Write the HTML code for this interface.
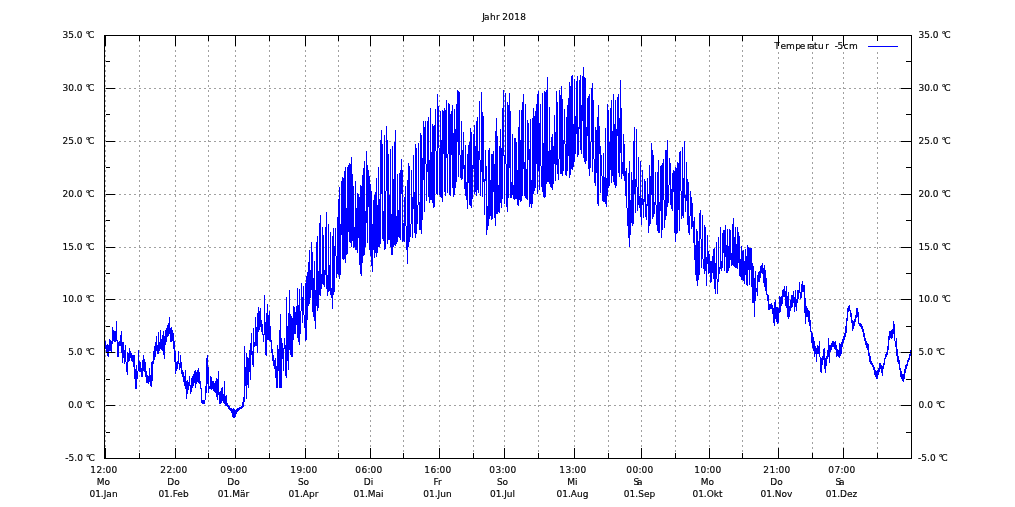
<!DOCTYPE html>
<html lang="de"><head><meta charset="utf-8"><title>Jahr 2018</title>
<style>html,body{margin:0;padding:0;background:#fff}svg{display:block}</style>
</head><body>
<svg width="1015" height="507" viewBox="0 0 1015 507">
<rect width="1015" height="507" fill="#fff"/>
<path d="M105.5 35V458M175.5 35V458M235.5 35V458M305.5 35V458M370.5 35V458M439.5 35V458M504.5 35V458M574.5 35V458M641.5 35V458M709.5 35V458M778.5 52V458M843.5 52V458M139.5 35V458M208.5 35V458M269.5 35V458M338.5 35V458M403.5 35V458M473.5 35V458M538.5 35V458M608.5 35V458M675.5 35V458M742.5 35V458M812.5 52V458M877.5 52V458M104 88.5H911M104 141.5H911M104 194.5H911M104 247.5H911M104 299.5H911M104 352.5H911M104 405.5H911" stroke="#a0a0a0" stroke-width="1" stroke-dasharray="2 3" fill="none" shape-rendering="crispEdges"/>
<path d="M105.5 341V349M106.5 345V353M107.5 344V356M108.5 345V357M109.5 339V351M110.5 340V351M111.5 341V353M112.5 327V344M113.5 330V341M114.5 331V342M115.5 331V342M116.5 321V341M117.5 340V357M118.5 342V357M119.5 341V346M120.5 335V346M121.5 331V353M122.5 342V363M123.5 342V358M124.5 350V364M125.5 345V362M126.5 362V372M127.5 352V375M128.5 353V362M129.5 348V361M130.5 351V358M131.5 353V361M132.5 355V362M133.5 355V367M134.5 355V379M135.5 369V389M136.5 365V389M137.5 371V379M138.5 350V371M139.5 361V372M140.5 362V372M141.5 368V377M142.5 360V377M143.5 355V371M144.5 359V372M145.5 362V377M146.5 371V383M147.5 375V383M148.5 376V384M149.5 368V382M150.5 375V386M151.5 362V387M152.5 361V381M153.5 351V364M154.5 346V360M155.5 342V357M156.5 336V351M157.5 345V354M158.5 332V354M159.5 342V351M160.5 330V349M161.5 339V350M162.5 335V351M163.5 331V355M164.5 336V359M165.5 330V345M166.5 328V342M167.5 325V337M168.5 323V336M169.5 317V334M170.5 328V342M171.5 327V342M172.5 330V341M173.5 333V349M174.5 341V362M175.5 351V374M176.5 362V371M177.5 361V369M178.5 351V364M179.5 363V370M180.5 355V368M181.5 362V374M182.5 370V377M183.5 372V382M184.5 376V386M185.5 370V389M186.5 381V399M187.5 380V394M188.5 382V390M189.5 376V386M190.5 385V394M191.5 378V392M192.5 376V388M193.5 374V386M194.5 371V383M195.5 370V388M196.5 372V384M197.5 370V382M198.5 368V383M199.5 372V384M200.5 381V389M201.5 388V403M202.5 400V404M203.5 400V404M204.5 400V404M205.5 386V400M206.5 358V393M207.5 355V384M208.5 367V393M209.5 386V389M210.5 376V389M211.5 377V390M212.5 381V389M213.5 381V391M214.5 383V392M215.5 381V393M216.5 378V397M217.5 379V400M218.5 371V395M219.5 392V404M220.5 391V404M221.5 388V403M222.5 387V401M223.5 394V403M224.5 381V404M225.5 396V406M226.5 395V406M227.5 403V407M228.5 405V409M229.5 406V410M230.5 408V411M231.5 408V413M232.5 409V417M233.5 408V418M234.5 409V418M235.5 410V417M236.5 409V414M237.5 408V412M238.5 408V411M239.5 407V410M240.5 407V409M241.5 406V409M242.5 402V408M243.5 397V407M244.5 346V402M245.5 367V386M246.5 353V399M247.5 357V385M248.5 358V388M249.5 350V372M250.5 343V380M251.5 333V355M252.5 351V365M253.5 328V367M254.5 342V347M255.5 317V346M256.5 327V346M257.5 313V353M258.5 307V332M259.5 311V330M260.5 308V327M261.5 320V332M262.5 324V335M263.5 334V342M264.5 295V335M265.5 322V355M266.5 313V356M267.5 304V340M268.5 315V340M269.5 311V341M270.5 326V342M271.5 340V353M272.5 349V361M273.5 355V366M274.5 360V369M275.5 358V378M276.5 366V388M277.5 345V388M278.5 349V371M279.5 330V388M280.5 314V388M281.5 338V388M282.5 343V359M283.5 348V371M284.5 338V349M285.5 345V376M286.5 297V378M287.5 326V361M288.5 313V370M289.5 290V350M290.5 314V355M291.5 316V357M292.5 318V357M293.5 306V340M294.5 307V334M295.5 312V334M296.5 306V325M297.5 288V338M298.5 305V342M299.5 289V345M300.5 311V334M301.5 283V311M302.5 297V323M303.5 286V315M304.5 315V328M305.5 283V341M306.5 276V340M307.5 272V320M308.5 262V306M309.5 250V304M310.5 270V298M311.5 242V290M312.5 252V312M313.5 278V317M314.5 261V321M315.5 290V329M316.5 242V306M317.5 236V311M318.5 271V308M319.5 223V295M320.5 215V296M321.5 274V289M322.5 227V284M323.5 235V285M324.5 270V287M325.5 227V275M326.5 212V289M327.5 275V296M328.5 224V292M329.5 265V291M330.5 232V295M331.5 288V298M332.5 236V309M333.5 228V295M334.5 246V292M335.5 228V256M336.5 256V278M337.5 217V274M338.5 199V275M339.5 187V279M340.5 224V275M341.5 181V235M342.5 177V259M343.5 178V260M344.5 171V259M345.5 167V263M346.5 208V255M347.5 167V254M348.5 165V232M349.5 163V242M350.5 164V243M351.5 157V247M352.5 174V241M353.5 186V248M354.5 227V247M355.5 181V250M356.5 208V250M357.5 193V253M358.5 194V238M359.5 197V265M360.5 185V274M361.5 186V276M362.5 175V263M363.5 168V256M364.5 161V255M365.5 211V247M366.5 151V223M367.5 165V243M368.5 170V207M369.5 176V250M370.5 184V256M371.5 191V266M372.5 224V272M373.5 200V250M374.5 195V258M375.5 192V253M376.5 178V257M377.5 205V253M378.5 167V247M379.5 199V247M380.5 140V244M381.5 130V194M382.5 144V239M383.5 211V241M384.5 135V250M385.5 191V249M386.5 126V191M387.5 140V244M388.5 154V240M389.5 195V240M390.5 149V247M391.5 214V255M392.5 146V255M393.5 179V247M394.5 142V245M395.5 130V246M396.5 216V244M397.5 174V242M398.5 210V237M399.5 173V238M400.5 170V240M401.5 159V194M402.5 170V242M403.5 223V241M404.5 197V242M405.5 186V226M406.5 226V250M407.5 180V264M408.5 163V247M409.5 166V242M410.5 224V237M411.5 170V224M412.5 197V238M413.5 155V209M414.5 192V233M415.5 144V238M416.5 148V234M417.5 205V224M418.5 143V205M419.5 202V230M420.5 133V230M421.5 135V234M422.5 158V220M423.5 121V180M424.5 127V212M425.5 121V164M426.5 164V201M427.5 121V172M428.5 117V197M429.5 160V203M430.5 108V200M431.5 152V200M432.5 124V203M433.5 126V208M434.5 125V207M435.5 109V151M436.5 151V194M437.5 94V195M438.5 106V148M439.5 148V195M440.5 111V197M441.5 140V198M442.5 110V202M443.5 111V154M444.5 108V192M445.5 110V196M446.5 100V158M447.5 154V193M448.5 103V154M449.5 104V195M450.5 114V196M451.5 111V155M452.5 105V188M453.5 133V197M454.5 109V195M455.5 129V188M456.5 104V182M457.5 90V142M458.5 91V177M459.5 92V155M460.5 155V178M461.5 121V180M462.5 150V179M463.5 132V169M464.5 165V189M465.5 145V196M466.5 182V200M467.5 154V209M468.5 145V183M469.5 142V205M470.5 128V206M471.5 132V208M472.5 165V199M473.5 134V169M474.5 125V194M475.5 146V192M476.5 121V196M477.5 117V190M478.5 151V193M479.5 101V160M480.5 160V196M481.5 92V172M482.5 112V197M483.5 116V182M484.5 179V215M485.5 150V181M486.5 166V235M487.5 206V230M488.5 150V226M489.5 148V219M490.5 180V216M491.5 154V220M492.5 154V219M493.5 151V192M494.5 164V218M495.5 131V226M496.5 118V214M497.5 136V214M498.5 185V212M499.5 146V213M500.5 129V203M501.5 148V208M502.5 108V199M503.5 90V156M504.5 155V204M505.5 93V164M506.5 164V207M507.5 102V212M508.5 105V198M509.5 93V168M510.5 111V198M511.5 182V198M512.5 134V195M513.5 185V199M514.5 138V200M515.5 138V199M516.5 142V199M517.5 170V205M518.5 127V206M519.5 110V200M520.5 140V202M521.5 110V201M522.5 102V196M523.5 94V169M524.5 162V196M525.5 104V198M526.5 169V199M527.5 120V200M528.5 123V160M529.5 149V207M530.5 119V204M531.5 180V208M532.5 118V204M533.5 108V194M534.5 116V191M535.5 111V188M536.5 104V164M537.5 94V194M538.5 91V171M539.5 123V190M540.5 104V166M541.5 166V187M542.5 93V192M543.5 143V197M544.5 91V198M545.5 92V197M546.5 90V184M547.5 77V182M548.5 151V182M549.5 107V184M550.5 150V187M551.5 137V188M552.5 134V190M553.5 146V184M554.5 115V164M555.5 132V181M556.5 91V165M557.5 102V174M558.5 159V180M559.5 90V159M560.5 95V174M561.5 86V174M562.5 99V176M563.5 140V171M564.5 109V144M565.5 144V175M566.5 117V176M567.5 105V171M568.5 98V156M569.5 82V178M570.5 86V175M571.5 76V169M572.5 75V170M573.5 124V167M574.5 79V162M575.5 116V154M576.5 81V134M577.5 76V157M578.5 127V155M579.5 80V129M580.5 75V150M581.5 105V154M582.5 76V121M583.5 67V158M584.5 77V162M585.5 78V164M586.5 127V161M587.5 98V136M588.5 96V169M589.5 94V176M590.5 142V168M591.5 88V142M592.5 83V172M593.5 100V159M594.5 159V183M595.5 127V186M596.5 130V173M597.5 117V204M598.5 105V206M599.5 126V154M600.5 146V193M601.5 155V176M602.5 176V201M603.5 153V202M604.5 177V202M605.5 128V204M606.5 178V207M607.5 104V196M608.5 110V188M609.5 142V186M610.5 108V170M611.5 100V183M612.5 131V176M613.5 94V182M614.5 124V185M615.5 100V188M616.5 129V186M617.5 97V136M618.5 94V173M619.5 118V177M620.5 80V153M621.5 108V179M622.5 162V174M623.5 134V176M624.5 144V181M625.5 171V196M626.5 168V208M627.5 208V226M628.5 173V238M629.5 161V247M630.5 200V235M631.5 172V223M632.5 180V226M633.5 141V224M634.5 127V194M635.5 179V213M636.5 129V187M637.5 187V211M638.5 157V205M639.5 196V208M640.5 161V217M641.5 198V225M642.5 170V205M643.5 199V218M644.5 179V202M645.5 181V217M646.5 204V220M647.5 178V206M648.5 194V233M649.5 165V226M650.5 176V224M651.5 143V195M652.5 150V219M653.5 155V217M654.5 202V214M655.5 172V205M656.5 205V225M657.5 172V231M658.5 160V233M659.5 202V233M660.5 166V211M661.5 165V238M662.5 163V230M663.5 159V200M664.5 200V228M665.5 150V220M666.5 150V216M667.5 140V207M668.5 185V203M669.5 158V185M670.5 163V205M671.5 189V209M672.5 173V211M673.5 170V192M674.5 171V233M675.5 167V242M676.5 168V234M677.5 162V233M678.5 163V210M679.5 152V231M680.5 151V191M681.5 191V219M682.5 147V216M683.5 178V218M684.5 141V198M685.5 195V212M686.5 162V201M687.5 179V225M688.5 182V233M689.5 216V235M690.5 191V216M691.5 197V229M692.5 203V227M693.5 221V243M694.5 217V260M695.5 245V275M696.5 229V281M697.5 231V286M698.5 241V280M699.5 213V275M700.5 210V239M701.5 239V268M702.5 215V259M703.5 259V269M704.5 225V274M705.5 227V271M706.5 257V286M707.5 235V264M708.5 251V274M709.5 254V273M710.5 261V283M711.5 261V282M712.5 256V273M713.5 249V279M714.5 248V289M715.5 263V294M716.5 242V279M717.5 279V294M718.5 237V282M719.5 267V274M720.5 227V269M721.5 261V271M722.5 233V268M723.5 230V253M724.5 230V271M725.5 225V257M726.5 245V273M727.5 229V273M728.5 246V271M729.5 229V268M730.5 230V260M731.5 253V266M732.5 224V265M733.5 218V266M734.5 237V267M735.5 227V268M736.5 244V268M737.5 227V269M738.5 232V263M739.5 236V276M740.5 259V277M741.5 246V280M742.5 251V280M743.5 250V281M744.5 261V284M745.5 249V275M746.5 256V285M747.5 245V286M748.5 247V270M749.5 248V285M750.5 248V270M751.5 248V287M752.5 263V303M753.5 266V303M754.5 278V317M755.5 271V301M756.5 288V292M757.5 275V296M758.5 272V282M759.5 271V282M760.5 266V278M761.5 265V273M762.5 263V274M763.5 268V283M764.5 265V287M765.5 270V291M766.5 278V295M767.5 294V301M768.5 295V310M769.5 304V310M770.5 304V309M771.5 303V309M772.5 305V314M773.5 308V323M774.5 302V326M775.5 300V319M776.5 307V322M777.5 307V324M778.5 308V323M779.5 296V313M780.5 297V312M781.5 296V306M782.5 290V304M783.5 289V297M784.5 286V297M785.5 291V306M786.5 286V308M787.5 296V317M788.5 292V319M789.5 306V317M790.5 300V311M791.5 295V308M792.5 295V307M793.5 291V303M794.5 297V312M795.5 290V307M796.5 299V311M797.5 290V303M798.5 290V299M799.5 282V293M800.5 292V299M801.5 284V298M802.5 281V292M803.5 285V292M804.5 285V313M805.5 298V324M806.5 306V317M807.5 308V317M808.5 310V322M809.5 311V326M810.5 320V332M811.5 331V343M812.5 333V348M813.5 337V351M814.5 341V357M815.5 346V354M816.5 348V362M817.5 345V354M818.5 346V354M819.5 341V357M820.5 357V372M821.5 358V373M822.5 356V365M823.5 349V360M824.5 348V369M825.5 358V373M826.5 356V366M827.5 350V359M828.5 338V357M829.5 345V363M830.5 345V352M831.5 343V350M832.5 341V347M833.5 341V347M834.5 342V349M835.5 341V350M836.5 345V357M837.5 349V356M838.5 350V357M839.5 343V358M840.5 344V356M841.5 342V354M842.5 339V347M843.5 336V343M844.5 333V340M845.5 326V337M846.5 318V333M847.5 308V321M848.5 306V312M849.5 305V311M850.5 310V317M851.5 313V323M852.5 320V331M853.5 321V329M854.5 319V326M855.5 315V322M856.5 308V318M857.5 308V317M858.5 312V324M859.5 323V326M860.5 323V327M861.5 324V329M862.5 326V332M863.5 329V337M864.5 333V341M865.5 338V345M866.5 341V348M867.5 343V350M868.5 344V356M869.5 353V362M870.5 356V364M871.5 361V365M872.5 363V367M873.5 365V370M874.5 367V375M875.5 370V377M876.5 371V379M877.5 370V379M878.5 368V375M879.5 363V372M880.5 363V369M881.5 365V373M882.5 366V376M883.5 363V369M884.5 358V365M885.5 354V359M886.5 352V357M887.5 346V355M888.5 336V350M889.5 331V340M890.5 331V338M891.5 330V339M892.5 329V338M893.5 321V334M894.5 324V341M895.5 341V347M896.5 338V356M897.5 349V362M898.5 356V364M899.5 360V370M900.5 368V377M901.5 371V379M902.5 374V381M903.5 374V382M904.5 369V379M905.5 365V373M906.5 364V369M907.5 360V366M908.5 358V362M909.5 354V360M910.5 350V356" stroke="#0000ff" stroke-width="1" fill="none" shape-rendering="crispEdges"/>
<path d="M104.5 35.5H911.5V458.5H104.5ZM105.5 35v11M105.5 459v-11M175.5 35v11M175.5 459v-11M235.5 35v11M235.5 459v-11M305.5 35v11M305.5 459v-11M370.5 35v11M370.5 459v-11M439.5 35v11M439.5 459v-11M504.5 35v11M504.5 459v-11M574.5 35v11M574.5 459v-11M641.5 35v11M641.5 459v-11M709.5 35v11M709.5 459v-11M778.5 35v11M778.5 459v-11M843.5 35v11M843.5 459v-11M139.5 35v6M139.5 459v-6M208.5 35v6M208.5 459v-6M269.5 35v6M269.5 459v-6M338.5 35v6M338.5 459v-6M403.5 35v6M403.5 459v-6M473.5 35v6M473.5 459v-6M538.5 35v6M538.5 459v-6M608.5 35v6M608.5 459v-6M675.5 35v6M675.5 459v-6M742.5 35v6M742.5 459v-6M812.5 35v6M812.5 459v-6M877.5 35v6M877.5 459v-6M106 35.5h9M912 35.5h-11M106 88.5h9M912 88.5h-11M106 141.5h9M912 141.5h-11M106 194.5h9M912 194.5h-11M106 247.5h9M912 247.5h-11M106 299.5h9M912 299.5h-11M106 352.5h9M912 352.5h-11M106 405.5h9M912 405.5h-11M106 458.5h9M912 458.5h-11M106 61.5h4M912 61.5h-6M106 114.5h4M912 114.5h-6M106 167.5h4M912 167.5h-6M106 220.5h4M912 220.5h-6M106 273.5h4M912 273.5h-6M106 326.5h4M912 326.5h-6M106 379.5h4M912 379.5h-6M106 432.5h4M912 432.5h-6" stroke="#000" stroke-width="1" fill="none" shape-rendering="crispEdges"/>
<g font-family='"DejaVu Sans", "Liberation Sans", sans-serif' font-size="9" fill="#000" stroke="#000" stroke-width="0.15">
<text x="482.2 484.1 490.1 496.1 500 502.2 508.3 514.2 520.3" y="20">Jahr 2018</text>
<text x="62.5" y="38">35.0 °<tspan dx="-1.8">C</tspan></text>
<text x="918.55" y="38">35.0 °<tspan dx="-1.8">C</tspan></text>
<text x="62.5" y="91">30.0 °<tspan dx="-1.8">C</tspan></text>
<text x="918.55" y="91">30.0 °<tspan dx="-1.8">C</tspan></text>
<text x="62.5" y="144">25.0 °<tspan dx="-1.8">C</tspan></text>
<text x="918.55" y="144">25.0 °<tspan dx="-1.8">C</tspan></text>
<text x="62.5" y="197">20.0 °<tspan dx="-1.8">C</tspan></text>
<text x="918.55" y="197">20.0 °<tspan dx="-1.8">C</tspan></text>
<text x="62.5" y="250">15.0 °<tspan dx="-1.8">C</tspan></text>
<text x="918.55" y="250">15.0 °<tspan dx="-1.8">C</tspan></text>
<text x="62.5" y="302">10.0 °<tspan dx="-1.8">C</tspan></text>
<text x="918.55" y="302">10.0 °<tspan dx="-1.8">C</tspan></text>
<text x="68.25" y="355">5.0 °<tspan dx="-1.8">C</tspan></text>
<text x="918.55" y="355">5.0 °<tspan dx="-1.8">C</tspan></text>
<text x="68.25" y="408">0.0 °<tspan dx="-1.8">C</tspan></text>
<text x="918.55" y="408">0.0 °<tspan dx="-1.8">C</tspan></text>
<text x="65.3" y="461">-5.0 °<tspan dx="-1.8">C</tspan></text>
<text x="918.05" y="461">-5.0 °<tspan dx="-1.8">C</tspan></text>
<text x="90.2 96.4 102.4 105.6 111.4" y="473">12:00</text>
<text x="103.5" y="485" text-anchor="middle">Mo</text>
<text x="103.5" y="497" text-anchor="middle">01.Jan</text>
<text x="160.2 166.4 172.4 175.6 181.4" y="473">22:00</text>
<text x="173.5" y="485" text-anchor="middle">Do</text>
<text x="173.5" y="497" text-anchor="middle">01.Feb</text>
<text x="220.2 226.4 232.4 235.6 241.4" y="473">09:00</text>
<text x="233.5" y="485" text-anchor="middle">Do</text>
<text x="233.5" y="497" text-anchor="middle">01.Mär</text>
<text x="290.2 296.4 302.4 305.6 311.4" y="473">19:00</text>
<text x="303.5" y="485" text-anchor="middle">So</text>
<text x="303.5" y="497" text-anchor="middle">01.Apr</text>
<text x="355.2 361.4 367.4 370.6 376.4" y="473">06:00</text>
<text x="368.5" y="485" text-anchor="middle">Di</text>
<text x="368.5" y="497" text-anchor="middle">01.Mai</text>
<text x="424.2 430.4 436.4 439.6 445.4" y="473">16:00</text>
<text x="437.5" y="485" text-anchor="middle">Fr</text>
<text x="437.5" y="497" text-anchor="middle">01.Jun</text>
<text x="489.2 495.4 501.4 504.6 510.4" y="473">03:00</text>
<text x="502.5" y="485" text-anchor="middle">So</text>
<text x="502.5" y="497" text-anchor="middle">01.Jul</text>
<text x="559.2 565.4 571.4 574.6 580.4" y="473">13:00</text>
<text x="572.5" y="485" text-anchor="middle">Mi</text>
<text x="572.5" y="497" text-anchor="middle">01.Aug</text>
<text x="626.2 632.4 638.4 641.6 647.4" y="473">00:00</text>
<text x="633.6 637" y="485">Sa</text>
<text x="639.5" y="497" text-anchor="middle">01.Sep</text>
<text x="694.2 700.4 706.4 709.6 715.4" y="473">10:00</text>
<text x="707.5" y="485" text-anchor="middle">Mo</text>
<text x="707.5" y="497" text-anchor="middle">01.Okt</text>
<text x="763.2 769.4 775.4 778.6 784.4" y="473">21:00</text>
<text x="776.5" y="485" text-anchor="middle">Do</text>
<text x="776.5" y="497" text-anchor="middle">01.Nov</text>
<text x="828.2 834.4 840.4 843.6 849.4" y="473">07:00</text>
<text x="835.6 839" y="485">Sa</text>
<text x="841.5" y="497" text-anchor="middle">01.Dez</text>
<text x="774.3 780.5 786.1 795.2 799.8 807 808.9 813.9 818.1 825.3 829 832 834.7 837.6 843.5 849.1" y="49" xml:space="preserve" style="white-space:pre">Temperatur  -5cm</text>
</g>
<path d="M868 46.5H898" stroke="#0000ff" stroke-width="1" shape-rendering="crispEdges"/>
</svg>
</body></html>
